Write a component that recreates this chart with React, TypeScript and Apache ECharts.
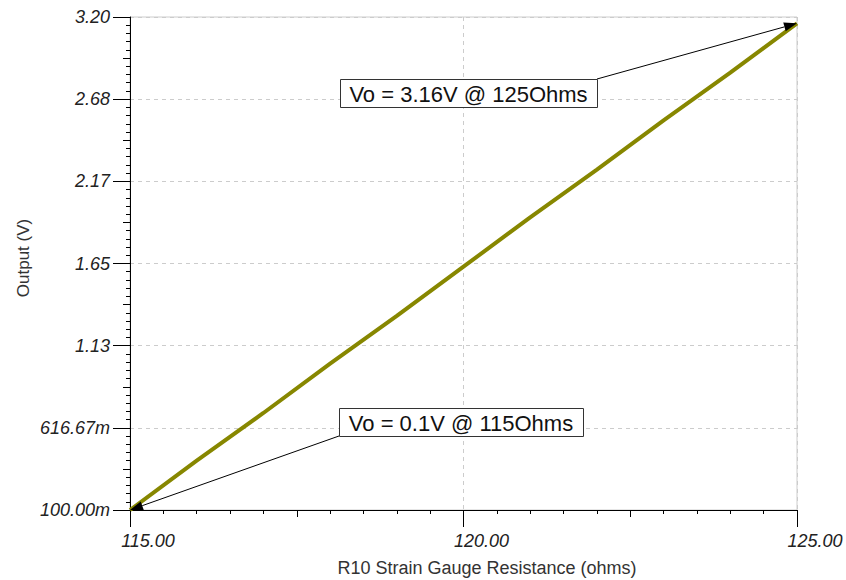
import React, { useEffect, useRef } from "react";
import * as echarts from "echarts";

const resistance = [115, 116, 117, 118, 119, 120, 121, 122, 123, 124, 125];
const outputV = [0.1, 0.41, 0.71, 1.02, 1.32, 1.63, 1.94, 2.24, 2.55, 2.85, 3.16];
const yMin = 0.1;
const yMax = 3.2;
const ySteps = 6;
const xTicks = [115, 120, 125];
const annotations = [
  { text: "Vo = 3.16V @ 125Ohms", x: 125, y: 3.16, box: [340, 79, 257, 28], anchor: "rt" },
  { text: "Vo = 0.1V @ 115Ohms", x: 115, y: 0.1, box: [339, 408, 244, 28], anchor: "lb" },
];

const stepSize = (yMax - yMin) / ySteps;
const toStep = (v: number) => (v - yMin) / stepSize;
const fmtY = (s: number) => {
  const v = yMin + s * stepSize;
  if (v < 1) return (v * 1000).toFixed(2) + "m";
  return v.toFixed(2);
};

export default function App() {
  const ref = useRef<HTMLDivElement>(null);
  useEffect(() => {
    const chart = echarts.init(ref.current!, null, { renderer: "svg" });
    const font = "'Liberation Sans', Arial, sans-serif";
    const option: any = {
      animation: false,
      backgroundColor: "#ffffff",
      grid: {
        left: 130,
        right: 49,
        top: 17,
        bottom: 70,
        show: true,
        borderColor: "#cccccc",
        borderWidth: 1,
      },
      xAxis: [
        {
          type: "value",
          min: xTicks[0],
          max: xTicks[xTicks.length - 1],
          interval: 5,
          axisLine: { show: true, lineStyle: { color: "#000", width: 1 } },
          axisTick: { show: true, length: 17, lineStyle: { color: "#000" } },
          minorTick: { show: true, splitNumber: 10, length: 4, lineStyle: { color: "#000" } },
          axisLabel: {
            color: "#222",
            fontStyle: "italic",
            fontSize: 18,
            fontFamily: font,
            margin: 22,
            padding: [0, 0, 0, 36],
            formatter: (v: number) => v.toFixed(2),
          },
          splitLine: { show: true, lineStyle: { color: "#cccccc", type: [4, 4] } },
        },
        {
          type: "value",
          position: "bottom",
          min: xTicks[0],
          max: xTicks[xTicks.length - 1],
          interval: 2.5,
          axisLine: { show: false },
          axisTick: { show: true, length: 7, lineStyle: { color: "#000" } },
          axisLabel: { show: false },
          splitLine: { show: false },
        },
      ],
      yAxis: [
        {
          type: "value",
          min: 0,
          max: ySteps,
          interval: 1,
          axisLine: { show: true, lineStyle: { color: "#000", width: 1 } },
          axisTick: { show: true, length: 17, lineStyle: { color: "#000" } },
          minorTick: { show: true, splitNumber: 10, length: 4, lineStyle: { color: "#000" } },
          axisLabel: {
            color: "#222",
            fontStyle: "italic",
            fontSize: 18,
            fontFamily: font,
            margin: 20,
            formatter: fmtY,
          },
          splitLine: { show: true, lineStyle: { color: "#cccccc", type: [4, 4] } },
        },
        {
          type: "value",
          position: "left",
          min: 0,
          max: ySteps,
          interval: 0.5,
          axisLine: { show: false },
          axisTick: { show: true, length: 7, lineStyle: { color: "#000" } },
          axisLabel: { show: false },
          splitLine: { show: false },
        },
      ],
      series: [
        {
          type: "line",
          xAxisIndex: 0,
          yAxisIndex: 0,
          data: resistance.map((r, i) => [r, toStep(outputV[i])]),
          showSymbol: false,
          lineStyle: { color: "#878700", width: 4 },
          z: 5,
        },
      ],
    };
    chart.setOption(option);

    const graphics: any[] = [
      {
        type: "text",
        x: 487,
        y: 568,
        style: {
          text: "R10 Strain Gauge Resistance (ohms)",
          font: `18px ${font}`,
          fill: "#333",
          align: "center",
          verticalAlign: "middle",
        },
      },
      {
        type: "text",
        x: 23,
        y: 258,
        rotation: Math.PI / 2,
        style: {
          text: "Output (V)",
          font: `17px ${font}`,
          fill: "#333",
          align: "center",
          verticalAlign: "middle",
        },
      },
    ];
    annotations.forEach((a) => {
      const p = chart.convertToPixel({ gridIndex: 0 }, [a.x, toStep(a.y)]) as number[];
      const [bx, by, bw, bh] = a.box;
      const start = a.anchor === "rt" ? [bx + bw, by] : [bx, by + bh];
      const dx = p[0] - start[0];
      const dy = p[1] - start[1];
      const len = Math.sqrt(dx * dx + dy * dy);
      const ux = dx / len;
      const uy = dy / len;
      const hl = 13;
      const hw = 4.5;
      const base = [p[0] - ux * hl, p[1] - uy * hl];
      graphics.push({
        type: "line",
        shape: { x1: start[0], y1: start[1], x2: base[0], y2: base[1] },
        style: { stroke: "#000", lineWidth: 1 },
        z: 10,
      });
      graphics.push({
        type: "polygon",
        shape: {
          points: [
            [p[0], p[1]],
            [base[0] - uy * hw, base[1] + ux * hw],
            [base[0] + uy * hw, base[1] - ux * hw],
          ],
        },
        style: { fill: "#000" },
        z: 10,
      });
      graphics.push({
        type: "rect",
        shape: { x: bx + 0.5, y: by + 0.5, width: bw, height: bh },
        style: { fill: "#fff", stroke: "#333", lineWidth: 1 },
        z: 10,
      });
      graphics.push({
        type: "text",
        x: bx + bw / 2,
        y: by + bh / 2 + 1,
        style: {
          text: a.text,
          font: `22px ${font}`,
          fill: "#111",
          align: "center",
          verticalAlign: "middle",
        },
        z: 11,
      });
    });
    chart.setOption({ graphic: graphics });
    return () => chart.dispose();
  }, []);
  return (
    <div
      ref={ref}
      style={{ position: "absolute", left: 0, top: 0, width: 846, height: 580 }}
    />
  );
}
